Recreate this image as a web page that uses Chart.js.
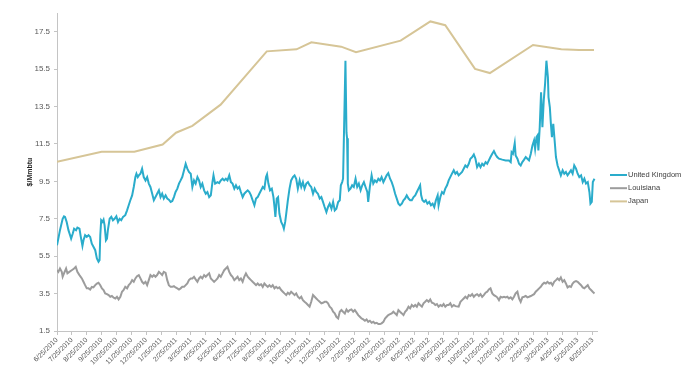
<!DOCTYPE html>
<html>
<head>
<meta charset="utf-8">
<script src="https://cdn.jsdelivr.net/npm/chart.js@4.4.1/dist/chart.umd.min.js"></script>
<style>
  html, body { margin: 0; padding: 0; background: #fff; }
  #wrap { width: 700px; height: 373px; }
</style>
</head>
<body>
<div id="wrap"><canvas id="c" width="700" height="373"></canvas></div>
<script>
// x = months since 6/25/2010, y = $/Mmbtu
var tickLabels = ['6/25/2010','7/25/2010','8/25/2010','9/25/2010','10/25/2010','11/25/2010','12/25/2010',
  '1/25/2011','2/25/2011','3/25/2011','4/25/2011','5/25/2011','6/25/2011','7/25/2011','8/25/2011',
  '9/25/2011','10/25/2011','11/25/2011','12/25/2011','1/25/2012','2/25/2012','3/25/2012','4/25/2012',
  '5/25/2012','6/25/2012','7/25/2012','8/25/2012','9/25/2012','10/25/2012','11/25/2012','12/25/2012',
  '1/25/2013','2/25/2013','3/25/2013','4/25/2013','5/25/2013','6/25/2013'];
var yTicks = [1.5, 3.5, 5.5, 7.5, 9.5, 11.5, 13.5, 15.5, 17.5];

var ukPoints = [
  [0,6.08],[0.09,6.44],[0.2,6.89],[0.38,7.5],[0.47,7.63],[0.54,7.6],[0.65,7.33],[0.77,6.89],[0.88,6.62],[0.95,6.44],
  [1.06,6.71],[1.15,6.97],[1.28,6.89],[1.37,7.03],[1.51,6.97],[1.6,6.53],[1.71,6.05],[1.78,6.35],[1.89,6.62],[2.0,6.53],
  [2.12,6.62],[2.23,6.53],[2.34,6.17],[2.45,6.0],[2.57,5.82],[2.68,5.38],[2.79,5.2],[2.86,5.29],[2.91,6.62],[2.97,7.42],
  [3.06,7.33],[3.13,7.45],[3.2,7.15],[3.29,6.35],[3.36,6.44],[3.42,6.89],[3.54,7.5],[3.65,7.6],[3.76,7.42],[3.87,7.5],
  [3.99,7.63],[4.1,7.33],[4.21,7.5],[4.32,7.42],[4.44,7.6],[4.59,7.69],[4.71,7.95],[4.82,8.22],[4.93,8.49],[5.05,8.75],
  [5.16,9.2],[5.27,9.73],[5.34,9.91],[5.43,9.73],[5.5,9.82],[5.61,9.91],[5.72,10.18],[5.83,9.73],[5.95,9.55],[6.06,9.73],
  [6.17,9.38],[6.28,9.2],[6.4,8.84],[6.51,8.49],[6.62,8.66],[6.73,8.84],[6.85,9.02],[6.96,8.66],[7.07,8.84],[7.18,8.58],
  [7.3,8.75],[7.41,8.58],[7.52,8.52],[7.64,8.4],[7.75,8.45],[7.86,8.66],[7.97,8.93],[8.09,9.11],[8.2,9.38],[8.31,9.55],
  [8.42,9.73],[8.54,10.09],[8.65,10.44],[8.76,10.18],[8.87,10.0],[8.99,9.91],
  [9.1,9.2],[9.21,9.55],[9.32,9.38],[9.44,9.73],[9.55,9.55],[9.66,9.2],[9.77,9.38],[9.89,9.02],[10.0,8.84],[10.11,8.93],
  [10.23,8.66],[10.34,8.75],[10.45,9.46],[10.52,9.82],[10.63,9.38],[10.79,9.46],[10.9,9.41],[11.01,9.55],[11.13,9.64],[11.24,9.55],
  [11.35,9.64],[11.46,9.55],[11.58,9.82],[11.69,9.46],[11.8,9.38],[11.92,9.11],[12.03,9.29],[12.14,9.11],[12.25,9.2],[12.36,8.93],
  [12.48,8.66],[12.59,8.84],[12.7,8.93],[12.82,9.02],[12.93,8.93],[13.04,8.75],[13.15,8.49],[13.27,8.22],[13.38,8.58],[13.49,8.66],
  [13.6,8.84],[13.72,9.02],[13.83,9.2],[13.94,9.11],[14.05,9.73],[14.12,9.87],[14.21,9.38],[14.32,9.02],[14.44,9.11],[14.55,8.66],
  [14.62,8.13],[14.68,7.6],[14.77,8.58],[14.86,8.66],[14.95,7.78],[15.07,7.33],[15.18,7.15],[15.25,6.97],[15.34,7.33],[15.41,7.78],
  [15.52,8.49],[15.63,9.11],[15.74,9.55],[15.86,9.73],[15.97,9.82],[16.08,9.64],[16.19,9.11],[16.31,9.55],[16.42,9.2],[16.53,9.46],
  [16.64,9.11],[16.76,9.38],[16.87,9.46],[16.98,9.29],[17.09,9.2],[17.21,8.84],[17.32,9.11],[17.43,8.93],[17.54,8.84],[17.66,8.58],
  [17.77,8.66],[17.88,8.4],[17.99,8.13],
  [18.11,7.86],[18.22,8.13],[18.33,8.31],[18.45,8.04],[18.56,8.4],[18.67,7.95],[18.78,8.04],[18.9,8.4],[19.01,8.49],[19.08,9.29],
  [19.17,9.46],[19.23,9.64],[19.39,15.95],[19.46,12.1],[19.5,11.8],[19.55,9.38],[19.62,9.02],[19.73,9.11],[19.84,9.29],[19.95,9.2],
  [20.07,9.64],[20.18,9.2],[20.29,9.38],[20.41,9.02],[20.52,9.29],[20.63,9.46],[20.74,9.2],[20.86,8.93],[20.92,8.4],[21.03,9.2],
  [21.15,9.82],[21.26,9.38],[21.37,9.55],[21.49,9.46],[21.6,9.64],[21.71,9.55],[21.82,9.73],[21.94,9.46],[22.05,9.64],[22.16,9.82],
  [22.27,9.94],[22.39,9.64],[22.5,9.46],[22.61,9.2],[22.73,8.84],[22.84,8.58],[22.95,8.31],[23.06,8.22],[23.18,8.31],[23.29,8.49],
  [23.4,8.58],[23.51,8.75],[23.63,8.58],[23.74,8.49],[23.85,8.49],[23.97,8.66],[24.08,8.75],[24.19,8.93],[24.3,9.11],[24.41,9.29],
  [24.48,8.75],[24.57,8.49],[24.68,8.4],[24.79,8.49],[24.9,8.31],[25.02,8.4],[25.14,8.22],[25.25,8.31],[25.36,8.13],[25.47,8.49],
  [25.59,8.75],[25.65,8.22],[25.77,8.66],[25.88,8.93],[25.99,8.84],[26.1,9.11],[26.22,9.29],[26.33,9.55],
  [26.55,9.91],[26.67,10.09],[26.78,9.91],[26.89,10.0],[27.0,9.82],[27.23,10.0],[27.45,10.35],[27.57,10.26],[27.68,10.44],[27.79,10.71],
  [27.91,10.8],[28.02,10.94],[28.13,10.71],[28.24,10.26],[28.36,10.44],[28.47,10.26],[28.58,10.44],[28.69,10.35],[28.81,10.53],[28.92,10.44],
  [29.03,10.62],[29.14,10.8],[29.26,10.98],[29.37,11.12],[29.48,10.94],[29.59,10.8],[29.71,10.71],[29.93,10.66],[30.16,10.62],[30.38,10.62],
  [30.5,10.53],[30.56,11.06],[30.65,10.98],[30.77,11.54],[30.83,10.89],[30.95,10.71],[31.06,10.44],[31.17,10.35],[31.28,10.53],[31.4,10.66],
  [31.51,10.8],[31.62,10.71],[31.73,10.62],[31.85,10.98],[31.96,11.42],[32.07,11.69],[32.14,11.24],[32.23,11.86],[32.3,11.95],[32.36,11.15],
  [32.45,12.4],[32.54,14.26],[32.63,12.4],[32.72,13.82],[32.81,14.71],[32.9,15.95],[33.0,15.06],[33.04,14.0],[33.13,13.46],[33.2,12.58],
  [33.27,11.86],[33.36,12.58],[33.47,11.51],[33.54,10.8],
  [33.65,10.35],[33.76,10.09],[33.87,9.82],[33.99,10.09],[34.1,9.91],[34.21,10.0],[34.32,9.82],[34.55,10.09],[34.66,9.91],[34.77,10.35],
  [34.89,10.18],[35.0,9.91],[35.11,9.73],[35.23,9.82],[35.34,9.46],[35.45,9.64],[35.56,9.38],[35.68,9.46],[35.79,8.93],[35.86,8.31],
  [35.95,8.4],[36.02,9.46],[36.13,9.64]
];

var louisianaPoints = [
  [0,4.75],[0.09,4.66],[0.2,4.84],[0.32,4.66],[0.38,4.4],[0.47,4.58],[0.61,4.84],[0.7,4.58],[0.83,4.66],[0.99,4.75],
  [1.15,4.84],[1.26,4.93],[1.37,4.66],[1.51,4.49],[1.67,4.31],[1.78,4.13],[1.89,3.95],[2.0,3.78],[2.12,3.78],[2.23,3.72],
  [2.34,3.86],[2.45,3.83],[2.57,3.95],[2.68,4.04],[2.79,4.08],[2.91,3.95],[3.02,3.78],[3.13,3.69],[3.24,3.51],[3.36,3.47],
  [3.47,3.42],[3.58,3.33],[3.69,3.37],[3.81,3.28],[3.92,3.24],[4.03,3.33],[4.14,3.19],[4.26,3.33],[4.37,3.6],[4.48,3.69],
  [4.59,3.86],[4.71,3.78],[4.82,3.95],[4.93,4.04],[5.05,4.22],[5.16,4.13],[5.27,4.31],[5.38,4.43],[5.5,4.49],[5.61,4.31],
  [5.72,4.13],[5.83,4.04],[5.95,4.13],[6.06,3.95],[6.17,4.22],[6.28,4.49],[6.4,4.4],[6.51,4.49],[6.62,4.4],[6.73,4.49],
  [6.85,4.66],[6.96,4.58],[7.07,4.49],[7.18,4.66],[7.3,4.61],[7.41,4.22],[7.52,3.95],[7.64,3.86],[7.75,3.86],[7.86,3.9],
  [7.97,3.83],[8.09,3.78],[8.2,3.72],[8.31,3.78],[8.42,3.86],[8.54,3.86],[8.65,3.95],[8.76,4.04],[8.87,4.22],[8.99,4.31],
  [9.1,4.31],[9.21,4.4],[9.32,4.26],[9.44,4.13],[9.55,4.31],[9.66,4.4],[9.77,4.31],[9.89,4.49],[10.0,4.4],[10.11,4.49],
  [10.23,4.58],[10.34,4.31],[10.45,4.22],[10.56,4.13],[10.68,4.22],[10.79,4.31],[10.9,4.49],[11.01,4.4],[11.13,4.58],[11.24,4.75],
  [11.35,4.84],[11.46,4.93],[11.58,4.66],[11.69,4.49],[11.8,4.4],[11.92,4.22],[12.03,4.31],[12.14,4.4],[12.25,4.22],[12.36,4.31],
  [12.48,4.13],[12.59,4.4],[12.7,4.58],[12.82,4.4],[12.93,4.31],[13.04,4.22],[13.15,4.13],[13.27,4.04],[13.38,3.95],[13.49,4.04],
  [13.6,3.95],[13.72,4.0],[13.83,3.86],[13.94,4.04],[14.05,3.95],[14.17,3.86],[14.28,3.95],[14.39,3.86],[14.5,3.95],[14.62,3.78],
  [14.73,3.86],[14.84,3.78],[14.95,3.83],[15.07,3.69],[15.18,3.6],[15.29,3.51],[15.41,3.42],[15.52,3.55],[15.63,3.47],[15.74,3.6],
  [15.86,3.51],[15.97,3.42],[16.08,3.51],[16.19,3.33],[16.31,3.24],[16.42,3.33],[16.53,3.15],[16.64,3.06],[16.76,2.98],[16.87,2.89],
  [16.98,2.8],[17.09,3.06],[17.21,3.42],[17.32,3.33],[17.43,3.24],[17.54,3.15],[17.66,3.06],[17.77,2.98],[17.88,3.01],[17.99,3.06],
  [18.11,3.06],[18.22,2.98],[18.33,2.8],[18.45,2.71],[18.56,2.53],[18.67,2.44],[18.78,2.26],[18.9,2.17],[19.01,2.53],[19.12,2.62],
  [19.23,2.53],[19.35,2.44],[19.46,2.65],[19.57,2.53],[19.68,2.62],[19.79,2.65],[19.91,2.53],[20.02,2.62],[20.14,2.48],[20.25,2.35],
  [20.36,2.26],[20.47,2.17],[20.59,2.12],[20.7,2.05],[20.81,2.12],[20.92,1.99],[21.03,2.05],[21.15,1.94],[21.26,1.99],[21.37,1.91],
  [21.49,1.94],[21.6,1.87],[21.71,1.87],[21.82,1.91],[21.94,1.99],[22.05,2.17],[22.16,2.26],[22.27,2.35],[22.39,2.4],[22.5,2.44],
  [22.61,2.53],[22.73,2.44],[22.84,2.35],[22.95,2.62],[23.06,2.53],[23.18,2.44],[23.29,2.35],[23.4,2.53],[23.51,2.62],[23.63,2.8],
  [23.74,2.71],[23.85,2.89],[23.97,2.8],[24.08,2.89],[24.19,2.8],[24.3,2.98],[24.41,2.89],[24.53,2.8],[24.64,2.98],[24.75,3.06],
  [24.86,3.15],[24.98,3.06],[25.09,3.19],[25.2,3.01],[25.32,2.98],[25.43,2.89],[25.54,2.94],[25.65,2.8],[25.77,2.89],[25.88,2.83],
  [25.99,2.94],[26.1,2.8],[26.22,2.89],[26.33,2.89],[26.44,2.98],[26.55,2.8],[26.67,2.89],[26.78,2.83],
  [27.0,2.8],[27.12,3.06],[27.23,3.15],[27.34,3.24],[27.45,3.33],[27.57,3.24],[27.68,3.42],[27.79,3.37],[27.91,3.47],[28.02,3.33],
  [28.13,3.42],[28.24,3.47],[28.36,3.37],[28.47,3.47],[28.58,3.33],[28.69,3.42],[28.81,3.55],[28.92,3.6],[29.03,3.72],[29.14,3.78],
  [29.26,3.51],[29.37,3.42],[29.48,3.37],[29.59,3.3],[29.71,3.15],[29.82,3.33],[29.93,3.3],[30.05,3.33],[30.16,3.3],[30.27,3.33],
  [30.38,3.24],[30.5,3.3],[30.61,3.19],[30.72,3.33],[30.83,3.51],[30.95,3.6],[31.06,3.24],[31.17,3.06],[31.28,3.3],[31.4,3.33],
  [31.51,3.37],[31.62,3.3],[31.73,3.33],[31.85,3.37],[31.96,3.42],[32.07,3.47],[32.18,3.6],[32.3,3.69],[32.41,3.78],[32.52,3.86],
  [32.64,4.0],[32.75,4.08],[32.86,4.04],[32.97,4.13],[33.09,4.04],[33.2,4.08],[33.31,3.95],[33.42,4.13],[33.54,4.22],[33.65,4.31],
  [33.76,4.22],[33.87,4.36],[33.99,4.13],[34.1,4.22],[34.21,4.04],[34.32,3.83],[34.44,3.9],[34.55,3.86],[34.66,4.04],[34.77,4.13],
  [34.89,4.17],[35.0,4.13],[35.11,4.04],[35.23,3.95],[35.34,3.83],[35.45,3.78],[35.56,3.86],[35.68,3.95],[35.79,3.78],[35.9,3.69],
  [36.01,3.6],[36.13,3.51]
];

var japanPoints = [
  [0,10.55],[3,11.08],[5.2,11.08],[7.1,11.47],[8,12.1],[9.1,12.47],[11,13.6],[14.1,16.45],[16.1,16.56],[17.1,16.93],
  [19.1,16.7],[20.1,16.4],[23.1,17.02],[25.1,18.05],[26.1,17.85],[28.1,15.51],[29.1,15.29],[32,16.79],[33.9,16.56],
  [35.1,16.52],[36.1,16.52]
];

var seriesNames = ['United Kingdom', 'Louisiana', 'Japan'];
var seriesColors = ['#2aaccb', '#9c9c9c', '#d6c597'];

function toXY(pts){
  var out = [];
  for(var i=0;i<pts.length;i++) out.push({x: pts[i][0], y: pts[i][1]});
  return out;
}

var allPoints = [ukPoints, louisianaPoints, japanPoints];
var datasets = [];
for(var s=0;s<3;s++){
  datasets.push({
    label: seriesNames[s],
    data: toXY(allPoints[s]),
    borderColor: seriesColors[s],
    backgroundColor: seriesColors[s],
    borderWidth: 2,
    pointRadius: 0,
    tension: 0,
    fill: false
  });
}

// simple legend on the right, lines + labels
var sideLegend = {
  id: 'sideLegend',
  afterDraw: function(chart){
    var ctx = chart.ctx;
    var x = chart.chartArea.right + 13;
    var y0 = chart.height / 2 - 11.5;
    ctx.save();
    ctx.font = '7.5px "Liberation Sans", Arial, sans-serif';
    ctx.textBaseline = 'middle';
    ctx.textAlign = 'left';
    chart.data.datasets.forEach(function(ds, i){
      var y = y0 + i * 13.2;
      ctx.strokeStyle = ds.borderColor;
      ctx.lineWidth = 2;
      ctx.beginPath();
      ctx.moveTo(x, y);
      ctx.lineTo(x + 17, y);
      ctx.stroke();
      ctx.fillStyle = '#404040';
      ctx.fillText(ds.label, x + 18, y);
    });
    ctx.restore();
  }
};

var axisColor = '#c4c4c4';
var labelColor = '#595959';

new Chart(document.getElementById('c').getContext('2d'), {
  type: 'line',
  data: { datasets: datasets },
  plugins: [sideLegend],
  options: {
    responsive: false,
    animation: false,
    events: [],
    layout: { padding: { left: 0, right: 103, top: 13, bottom: 0 } },
    plugins: { legend: { display: false }, tooltip: { enabled: false } },
    scales: {
      x: {
        type: 'linear',
        min: 0,
        max: 36.3,
        border: { display: true, color: axisColor, width: 1 },
        grid: { drawOnChartArea: false, drawTicks: true, tickLength: 4, color: axisColor },
        afterBuildTicks: function(scale){
          scale.ticks = tickLabels.map(function(l, i){ return { value: i }; });
        },
        afterFit: function(scale){ scale.height = 42; },
        ticks: {
          autoSkip: false,
          minRotation: 45,
          maxRotation: 45,
          padding: 1,
          color: labelColor,
          font: { family: '"Liberation Sans", Arial, sans-serif', size: 7 },
          callback: function(v){ return tickLabels[Math.round(v)]; }
        }
      },
      y: {
        min: 1.5,
        max: 18.5,
        border: { display: true, color: axisColor, width: 1 },
        grid: { drawOnChartArea: false, drawTicks: true, tickLength: 3, color: axisColor },
        afterBuildTicks: function(scale){
          scale.ticks = yTicks.map(function(v){ return { value: v }; });
        },
        afterFit: function(scale){ scale.width = 57; },
        title: {
          display: true,
          text: '$/Mmbtu',
          color: '#262626',
          font: { family: '"Liberation Sans", Arial, sans-serif', size: 7, weight: 'bold' },
          padding: { top: 26, bottom: 0 }
        },
        ticks: {
          padding: 4,
          color: labelColor,
          font: { family: '"Liberation Sans", Arial, sans-serif', size: 8 },
          callback: function(v){ return v.toFixed(1); }
        }
      }
    }
  }
});
</script>
</body>
</html>
